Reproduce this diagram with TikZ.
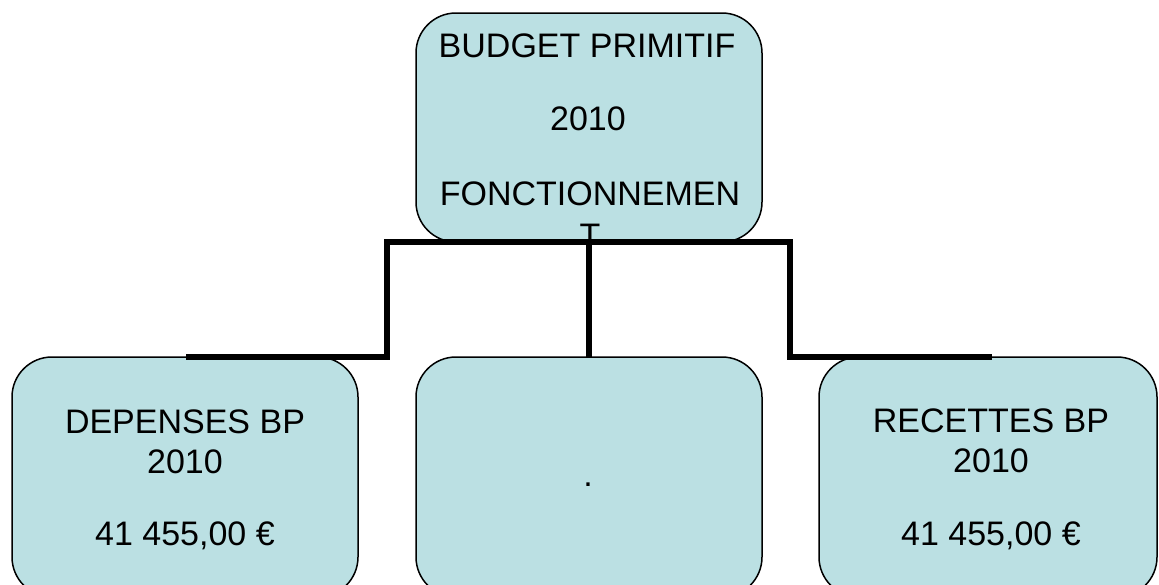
\documentclass[tikz,border=0pt]{standalone}
\usepackage{fontspec}
\setmainfont{Liberation Sans}
\definecolor{boxfill}{RGB}{187,224,227}
\begin{document}
\begin{tikzpicture}[x=1pt,y=-1pt,
  box/.style={draw=black,line width=1.5pt,fill=boxfill,rounded corners=40pt,
    minimum width=346pt,inner sep=0pt,outer sep=0pt},
  txt/.style={anchor=base,inner sep=0pt,font=\fontsize{34}{40}\selectfont},
  conn/.style={draw=black,line width=5.5pt}]
\useasboundingbox (0,0) rectangle (1159,584);
\fill[white] (0,0) rectangle (1159,584);
\clip (0,0) rectangle (1159,584);
% boxes
\node[box,minimum height=229pt] (top) at (589,127.5) {};
\node[box,minimum height=240pt] (dep) at (185,477) {};
\node[box,minimum height=240pt] (mid) at (589,477) {};
\node[box,minimum height=240pt,minimum width=338pt] (rec) at (988,477) {};
% texts
\node[txt] (t1) at (587,57) {BUDGET PRIMITIF};
\node[txt] (t2) at (588,130) {2010};
\node[txt] (t3) at (590,205) {FONCTIONNEMEN};
\node[txt] (t4) at (590,247) {T};
\node[txt] (d1) at (185,433) {DEPENSES BP};
\node[txt] (d2) at (185,473) {2010};
\node[txt] (d3) at (185,545) {41 455,00 €};
\node[txt] (m1) at (588,486) {.};
\node[txt] (r1) at (991,432) {RECETTES BP};
\node[txt] (r2) at (991,472) {2010};
\node[txt] (r3) at (991,545) {41 455,00 €};
% connectors
\coordinate (elbowL) at (387,300);
\coordinate (elbowR) at (790,300);
\coordinate (endL) at (186,357);
\coordinate (endR) at (992,357);
\draw[conn] (top.south) -| (elbowL) |- (endL);
\draw[conn] (top.south) -| (elbowR) |- (endR);
\draw[conn] (top.south) -- (mid.north);
\end{tikzpicture}
\end{document}
